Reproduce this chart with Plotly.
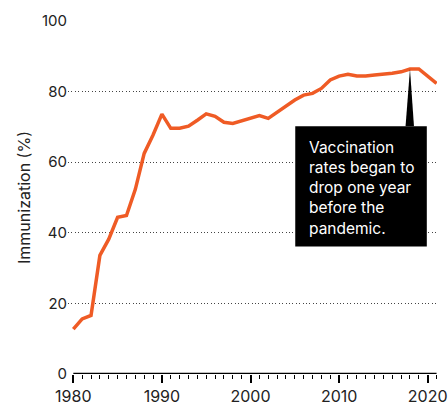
import plotly.graph_objects as go

years = list(range(1980, 2022))
immunization = [12.7, 15.6, 16.6, 33.6, 38.2, 44.4, 44.9, 52.3, 62.5, 67.7,
                73.6, 69.6, 69.6, 70.2, 71.9, 73.7, 73.0, 71.3, 71.0, 71.7,
                72.4, 73.2, 72.4, 74.1, 76.0, 77.6, 79.0, 79.5, 80.9, 83.3,
                84.4, 84.9, 84.4, 84.4, 84.7, 84.9, 85.2, 85.6, 86.4, 86.4,
                84.2, 82.3]
y_ticks = [0, 20, 40, 60, 80, 100]
x_ticks = [1980, 1990, 2000, 2010, 2020]
note_lines = ["Vaccination", "rates began to", "drop one year", "before the", "pandemic."]
note_year = 2018

FONT = "Inter"
TXT = "#222222"
ORANGE = "#EF5B25"

fig = go.Figure()
fig.add_trace(go.Scatter(x=years, y=immunization, mode="lines",
                         line=dict(color=ORANGE, width=3.5), hoverinfo="skip"))

peak = immunization[years.index(note_year)]
shapes = [
    dict(type="line", xref="x", yref="y", x0=years[0], x1=years[-1], y0=0, y1=0,
         line=dict(color="black", width=2.5), layer="above"),
    dict(type="rect", xref="x", yref="y", x0=2005.05, x1=2019.9, y0=36.1, y1=70.2,
         fillcolor="black", line=dict(width=0), layer="above"),
    dict(type="path", xref="x", yref="y",
         path=f"M 2017.5 70.2 L {note_year} {peak} L 2018.45 70.2 Z",
         fillcolor="black", line=dict(width=0), layer="above"),
]

fig.update_layout(
    width=448, height=407,
    margin=dict(l=68, r=11, t=21, b=33),
    paper_bgcolor="white", plot_bgcolor="white",
    showlegend=False,
    font=dict(family=FONT, color=TXT),
    shapes=shapes,
    annotations=[dict(xref="x", yref="y", x=2006.4, y=67.5, xanchor="left", yanchor="top",
                      text="<br>".join(note_lines), showarrow=False, align="left",
                      font=dict(family=FONT, size=15.5, color="white"))],
    xaxis=dict(range=[1979.4, 2021.05], tickvals=x_ticks, ticks="outside", ticklen=8,
               tickwidth=1.5, tickcolor="black", showgrid=False, zeroline=False,
               showline=False, tickfont=dict(size=16, color=TXT), automargin=False,
               ticklabeloverflow="allow", ticklabelstandoff=0,
               minor=dict(dtick=1, tick0=1980, ticks="outside", ticklen=4,
                          tickwidth=1.2, tickcolor="black", showgrid=False)),
    yaxis=dict(range=[0, 100], tickvals=y_ticks, showgrid=True, gridcolor="#444444",
               gridwidth=1, griddash="1px,2.4px", zeroline=False, showline=False,
               ticks="", tickfont=dict(size=15, color=TXT), automargin=False,
               title=dict(text="Immunization (%)", font=dict(size=16, color=TXT), standoff=7)),
)

fig.write_html("out.html")
